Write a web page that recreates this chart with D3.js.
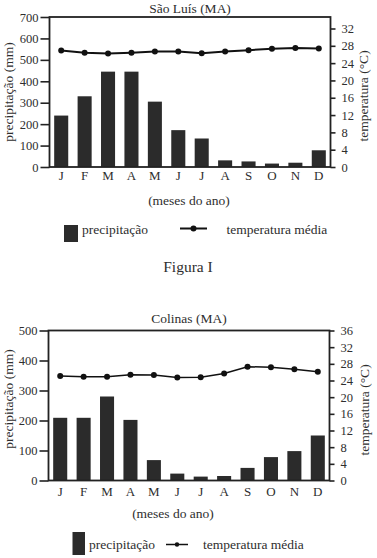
<!DOCTYPE html>
<html lang="pt">
<head>
    <meta charset="UTF-8">
    <title>Climogramas</title>
    <script src="https://d3js.org/d3.v7.min.js"></script>
    <style>
        body { margin: 0; background: #fff; }
    </style>
</head>
<body>
    <script>
        const months = ["J", "F", "M", "A", "M", "J", "J", "A", "S", "O", "N", "D"];

        const saoLuisPrecip = [240, 330, 445, 445, 305, 172, 133, 31, 26, 16, 20, 78];
        const saoLuisTemp = [26.9, 26.4, 26.2, 26.4, 26.7, 26.7, 26.3, 26.7, 27.0, 27.3, 27.5, 27.4];
        const saoLuisPrecipTicks = [0, 100, 200, 300, 400, 500, 600, 700];
        const saoLuisTempTicks = [0, 4, 8, 12, 16, 20, 24, 28, 32];

        const colinasPrecip = [209, 209, 280, 202, 68, 23, 13, 15, 42, 78, 98, 150];
        const colinasTemp = [25.1, 24.9, 24.9, 25.4, 25.3, 24.7, 24.8, 25.7, 27.3, 27.2, 26.7, 26.1];
        const colinasPrecipTicks = [0, 100, 200, 300, 400, 500];
        const colinasTempTicks = [0, 4, 8, 12, 16, 20, 24, 28, 32, 36];

        const w = 377;
        const h = 558;
        const ink = "#222";
        const barColor = "#2b2b2b";
        const serif = "'Liberation Serif', 'Times New Roman', Times, 'DejaVu Serif', serif";

        const svg = d3.select("body")
                        .append("svg")
                        .attr("width", w)
                        .attr("height", h)
                        .attr("font-family", serif);

        function drawChart(c) {
            const g = svg.append("g");
            const idx = d3.range(months.length);

            const x = d3.scaleBand()
                        .domain(idx)
                        .range([c.left, c.right])
                        .paddingInner(0.4)
                        .paddingOuter(0.2);

            const yP = d3.scaleLinear()
                        .domain([0, c.precipMax])
                        .range([c.bottom, c.top]);

            const yT = d3.scaleLinear()
                        .domain([0, c.tempTop])
                        .range([c.bottom, c.tempTopY]);

            // bars
            g.selectAll("rect.bar")
                .data(c.precip)
                .enter()
                .append("rect")
                .attr("class", "bar")
                .attr("x", (d, i) => x(i))
                .attr("y", d => yP(d))
                .attr("width", x.bandwidth())
                .attr("height", d => yP(0) - yP(d))
                .attr("fill", barColor);

            // frame
            g.append("rect")
                .attr("x", c.left)
                .attr("y", c.top)
                .attr("width", c.right - c.left)
                .attr("height", c.bottom - c.top)
                .attr("fill", "none")
                .attr("stroke", ink)
                .attr("stroke-width", 1.8);

            // left axis
            const leftAxis = d3.axisLeft(yP)
                        .tickValues(c.precipTicks)
                        .tickSize(9)
                        .tickSizeOuter(0)
                        .tickPadding(2);
            const gl = g.append("g")
                .attr("transform", "translate(" + c.left + ",0)")
                .call(leftAxis);
            gl.select(".domain").remove();
            gl.selectAll("line").attr("stroke", ink).attr("stroke-width", 1.6);
            gl.selectAll("text").attr("font-size", 12.5);

            // right axis
            const rightAxis = d3.axisRight(yT)
                        .tickValues(c.tempTicks)
                        .tickSize(5)
                        .tickSizeOuter(0)
                        .tickPadding(6);
            const gr = g.append("g")
                .attr("transform", "translate(" + c.right + ",0)")
                .call(rightAxis);
            gr.select(".domain").remove();
            gr.selectAll("line").attr("stroke", ink).attr("stroke-width", 1.6);
            gr.selectAll("text").attr("font-size", 12.5);

            // month labels
            const bottomAxis = d3.axisBottom(x)
                        .tickSize(0)
                        .tickPadding(c.monthPad)
                        .tickFormat(i => months[i]);
            const gb = g.append("g")
                .attr("transform", "translate(0," + c.bottom + ")")
                .call(bottomAxis);
            gb.select(".domain").remove();
            gb.selectAll("text").attr("font-size", 13);

            // axis groups get sans-serif from d3, put the serif back
            g.selectAll(".tick text").attr("font-family", serif).attr("fill", "#2e2e2e");

            // temperature line
            const line = d3.line()
                .x((d, i) => x(i) + x.bandwidth() / 2)
                .y(d => yT(d));

            g.append("path")
                .datum(c.temp)
                .attr("d", line)
                .attr("fill", "none")
                .attr("stroke", "#111")
                .attr("stroke-width", c.lineWidth);

            g.selectAll("circle.dot")
                .data(c.temp)
                .enter()
                .append("circle")
                .attr("class", "dot")
                .attr("cx", (d, i) => x(i) + x.bandwidth() / 2)
                .attr("cy", d => yT(d))
                .attr("r", 3)
                .attr("fill", "#111");

            // titles
            g.append("text")
                .attr("x", c.titleX)
                .attr("y", c.titleY)
                .attr("text-anchor", "middle")
                .text(c.title);

            g.append("text")
                .attr("transform", "translate(" + c.leftTitleX + "," + c.leftTitleY + ") rotate(-90)")
                .attr("text-anchor", "middle")
                .text("precipitação (mm)");

            g.append("text")
                .attr("transform", "translate(" + c.rightTitleX + "," + c.rightTitleY + ") rotate(-90)")
                .attr("text-anchor", "middle")
                .text("temperatura (°C)");

            g.append("text")
                .attr("x", c.xTitleX)
                .attr("y", c.xTitleY)
                .attr("text-anchor", "middle")
                .text("(meses do ano)");

            // legend
            const lg = c.legend;
            g.append("rect")
                .attr("x", lg.rectX)
                .attr("y", lg.rectY)
                .attr("width", lg.rectW)
                .attr("height", lg.rectH)
                .attr("fill", barColor);
            g.append("text")
                .attr("x", lg.textX)
                .attr("y", lg.textY)
                .text("precipitação");
            g.append("line")
                .attr("x1", lg.lineX1)
                .attr("x2", lg.lineX2)
                .attr("y1", lg.lineY)
                .attr("y2", lg.lineY)
                .attr("stroke", "#111")
                .attr("stroke-width", c.lineWidth);
            g.append("circle")
                .attr("cx", (lg.lineX1 + lg.lineX2) / 2)
                .attr("cy", lg.lineY)
                .attr("r", lg.dotR)
                .attr("fill", "#111");
            g.append("text")
                .attr("x", lg.text2X)
                .attr("y", lg.textY)
                .text("temperatura média");

            g.selectAll(":scope > text")
                .attr("font-family", serif)
                .attr("font-size", 13.5)
                .attr("fill", "#2e2e2e");
        }

        drawChart({
            title: "São Luís (MA)",
            precip: saoLuisPrecip,
            temp: saoLuisTemp,
            precipTicks: saoLuisPrecipTicks,
            tempTicks: saoLuisTempTicks,
            precipMax: 700,
            tempTop: 32,
            left: 49.5, right: 330.5, top: 17, bottom: 167,
            tempTopY: 28.5,
            monthPad: 4,
            lineWidth: 2,
            titleX: 190, titleY: 13,
            leftTitleX: 12.5, leftTitleY: 92,
            rightTitleX: 367.5, rightTitleY: 96,
            xTitleX: 189, xTitleY: 205,
            legend: {
                rectX: 64, rectY: 225, rectW: 14, rectH: 17,
                textX: 82, textY: 234,
                lineX1: 180, lineX2: 207, lineY: 228.5, dotR: 3,
                text2X: 226.5
            }
        });

        drawChart({
            title: "Colinas (MA)",
            precip: colinasPrecip,
            temp: colinasTemp,
            precipTicks: colinasPrecipTicks,
            tempTicks: colinasTempTicks,
            precipMax: 500,
            tempTop: 36,
            left: 48.5, right: 329.5, top: 330.5, bottom: 480.5,
            tempTopY: 330.5,
            monthPad: 6,
            lineWidth: 1.5,
            titleX: 189, titleY: 323,
            leftTitleX: 12.5, leftTitleY: 399,
            rightTitleX: 369, rightTitleY: 410,
            xTitleX: 173, xTitleY: 518,
            legend: {
                rectX: 72.5, rectY: 532, rectW: 12.5, rectH: 23,
                textX: 89, textY: 548.5,
                lineX1: 166, lineX2: 188, lineY: 544.5, dotR: 2.2,
                text2X: 203
            }
        });

        svg.append("text")
            .attr("x", 188)
            .attr("y", 271.5)
            .attr("text-anchor", "middle")
            .attr("font-size", 15.5)
            .attr("fill", "#2e2e2e")
            .text("Figura I");
    </script>
</body>
</html>
